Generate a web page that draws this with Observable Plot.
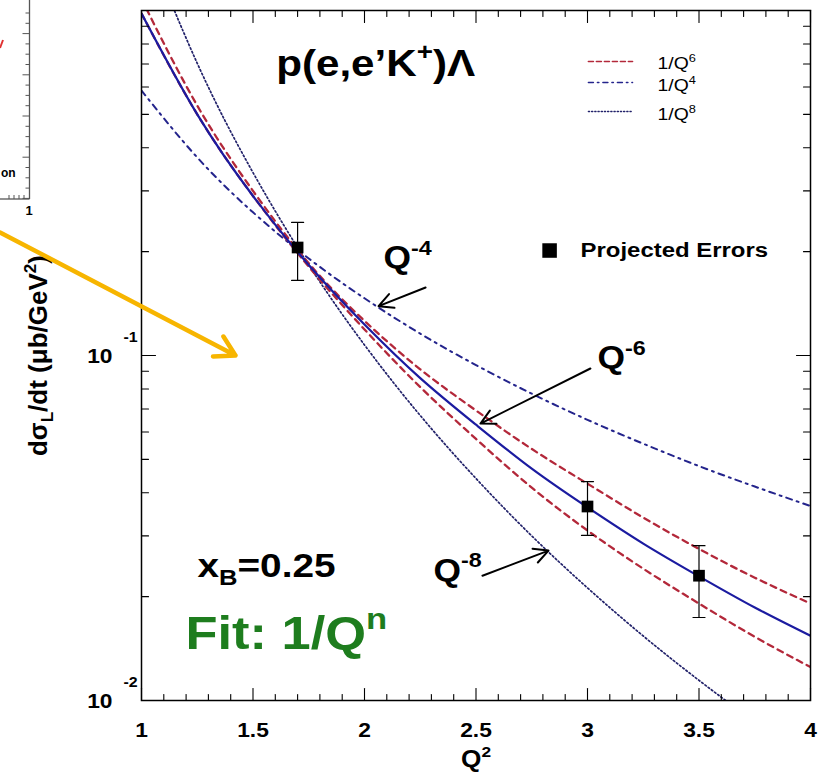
<!DOCTYPE html>
<html>
<head>
<meta charset="utf-8">
<script src="https://cdn.jsdelivr.net/npm/d3@7"></script>
<script src="https://cdn.jsdelivr.net/npm/@observablehq/plot@0.6"></script>
<style>
  body { margin: 0; background: #fff; }
  #wrap { position: relative; width: 827px; height: 774px; overflow: hidden; background: #fff; }
  #wrap > svg { position: absolute; left: 0; top: 0; }
</style>
</head>
<body>
<div id="wrap"></div>
<script>
// ---------------- data ----------------
const q2Grid   = [1, 1.25, 1.5, 1.75, 2, 2.25, 2.5, 2.75, 3, 3.25, 3.5, 3.75, 4];
const fitCurve = [0.98, 0.50, 0.29, 0.183, 0.123, 0.086, 0.063, 0.047, 0.0363, 0.0285, 0.0229, 0.0186, 0.0154];
const bandHigh = [1.08, 0.53, 0.30, 0.185, 0.126, 0.0912, 0.0693, 0.0536, 0.0425, 0.0339, 0.0275, 0.0227, 0.0191];
const bandLow  = [0.98, 0.50, 0.29, 0.181, 0.119, 0.081, 0.0573, 0.0414, 0.0311, 0.0241, 0.0191, 0.0153, 0.0125];
const curveQ4  = [0.586, 0.375, 0.260, 0.191, 0.1465, 0.1157, 0.0938, 0.0775, 0.0651, 0.0555, 0.0478, 0.0417, 0.0366];
const curveQ8  = [1.72, 0.703, 0.339, 0.183, 0.1073, 0.0670, 0.0440, 0.0300, 0.0212, 0.01538, 0.01144, 0.00868, 0.0067];

const pointQ2   = [1.7, 3.0, 3.5];
const pointVal  = [0.2056, 0.0365, 0.0230];
const pointLow  = [0.165, 0.0301, 0.0174];
const pointHigh = [0.243, 0.0431, 0.0281];

const xMajor = [1, 1.5, 2, 2.5, 3, 3.5, 4];
const xMajorLabels = ["1", "1.5", "2", "2.5", "3", "3.5", "4"];
const xMinor = [1.1, 1.2, 1.3, 1.4, 1.6, 1.7, 1.8, 1.9, 2.1, 2.2, 2.3, 2.4, 2.6, 2.7, 2.8, 2.9,
                3.1, 3.2, 3.3, 3.4, 3.6, 3.7, 3.8, 3.9];
const yMajor = [0.01, 0.1, 1];
const yMinor = [0.02, 0.03, 0.04, 0.05, 0.06, 0.07, 0.08, 0.09, 0.2, 0.3, 0.4, 0.5, 0.6, 0.7, 0.8, 0.9];
const yLabelVals = [0.01, 0.1];
const yLabelExps = ["-2", "-1"];

const legendLabels = ["1/Q^{6}", "1/Q^{4}", "1/Q^{8}"];

// ---------------- build tables ----------------
const series = (vals) => vals.map((v, i) => ({q2: q2Grid[i], v}));
const points = pointQ2.map((q, i) => ({q2: q, v: pointVal[i], lo: pointLow[i], hi: pointHigh[i]}));

const tickShape = {draw(ctx, l) { ctx.moveTo(0, 0); ctx.lineTo(0, -l); }};
const tk = {shape: tickShape, anchor: "start", stroke: "black", strokeWidth: 1.1};

const NAVY = "#1b1ba0", RED = "#b3283a", DASHDOT = "#24248c", DOTTED = "#22226a";
const BOLD = {fontWeight: "bold", fill: "black"};

const plot = Plot.plot({
  width: 827, height: 774,
  marginTop: 10, marginBottom: 74, marginLeft: 141, marginRight: 17,
  x: {domain: [1, 4], axis: null},
  y: {type: "log", domain: [0.01, 1], axis: null},
  style: {fontFamily: "'Liberation Sans', Arial, Helvetica, sans-serif", background: "transparent", overflow: "visible"},
  marks: [
    // curves
    Plot.line(series(curveQ4), {x: "q2", y: "v", curve: "natural", clip: true, stroke: DASHDOT, strokeWidth: 2, strokeDasharray: "6,5,2,5"}),
    Plot.line(series(curveQ8), {x: "q2", y: "v", curve: "natural", clip: true, stroke: DOTTED, strokeWidth: 1.7, strokeDasharray: "1.6,2.4"}),
    Plot.line(series(bandHigh), {x: "q2", y: "v", curve: "natural", clip: true, stroke: RED, strokeWidth: 2.3, strokeDasharray: "6,5"}),
    Plot.line(series(bandLow), {x: "q2", y: "v", curve: "natural", clip: true, stroke: RED, strokeWidth: 2.3, strokeDasharray: "6,5"}),
    Plot.line(series(fitCurve), {x: "q2", y: "v", curve: "natural", clip: true, stroke: NAVY, strokeWidth: 2.2}),
    // projected points with errors
    Plot.ruleX(points, {x: "q2", y1: "lo", y2: "hi", stroke: "black", strokeWidth: 1.2}),
    Plot.vector(points, {x: "q2", y: "hi", length: 12, rotate: 90, anchor: "middle", shape: tickShape, stroke: "black", strokeWidth: 1.2}),
    Plot.vector(points, {x: "q2", y: "lo", length: 12, rotate: 90, anchor: "middle", shape: tickShape, stroke: "black", strokeWidth: 1.2}),
    Plot.dot(points, {x: "q2", y: "v", symbol: "square", r: 6.6, fill: "black", stroke: "none"}),
    // frame and inward ticks
    Plot.frame({stroke: "black", strokeWidth: 1.5}),
    Plot.vector(xMajor, {x: d => d, frameAnchor: "bottom", length: 12, rotate: 0, ...tk}),
    Plot.vector(xMinor, {x: d => d, frameAnchor: "bottom", length: 6, rotate: 0, ...tk}),
    Plot.vector(xMajor, {x: d => d, frameAnchor: "top", length: 12, rotate: 180, ...tk}),
    Plot.vector(xMinor, {x: d => d, frameAnchor: "top", length: 6, rotate: 180, ...tk}),
    Plot.vector(yMajor, {y: d => d, frameAnchor: "left", length: 14, rotate: 90, ...tk}),
    Plot.vector(yMinor, {y: d => d, frameAnchor: "left", length: 7, rotate: 90, ...tk}),
    Plot.vector(yMajor, {y: d => d, frameAnchor: "right", length: 14, rotate: -90, ...tk}),
    Plot.vector(yMinor, {y: d => d, frameAnchor: "right", length: 7, rotate: -90, ...tk}),
    // tick labels
    Plot.text(xMajor, {x: d => d, frameAnchor: "bottom", lineAnchor: "middle", dy: 30, text: (d, i) => xMajorLabels[i], fontSize: 20, ...BOLD}),
    Plot.text(yLabelVals, {y: d => d, frameAnchor: "left", lineAnchor: "middle", dx: -29, dy: 1, text: () => "10", textAnchor: "end", fontSize: 20, ...BOLD}),
    Plot.text(yLabelVals, {y: d => d, frameAnchor: "left", lineAnchor: "middle", dx: -18, dy: -18, text: (d, i) => yLabelExps[i], textAnchor: "start", fontSize: 14, ...BOLD}),
    // axis titles
    Plot.text(["Q^{2}"], {frameAnchor: "bottom", lineAnchor: "middle", dy: 59, text: d => d, fontSize: 23, ...BOLD}),
    Plot.text(["dσ_{L}/dt (μb/GeV^{2})"], {frameAnchor: "left", textAnchor: "middle", lineAnchor: "middle", dx: -103, rotate: -90, text: d => d, fontSize: 26, ...BOLD}),
    // title and annotations
    Plot.text(["p(e,e’K^{+})Λ"], {x: 2.05, y: 0.70, text: d => d, fontSize: 37, ...BOLD}),
    Plot.text(["Q^{-4}"], {x: 2.085, y: 0.192, text: d => d, textAnchor: "start", fontSize: 31, ...BOLD}),
    Plot.text(["Q^{-6}"], {x: 3.045, y: 0.098, text: d => d, textAnchor: "start", fontSize: 31, ...BOLD}),
    Plot.text(["Q^{-8}"], {x: 2.309, y: 0.0238, text: d => d, textAnchor: "start", fontSize: 31, ...BOLD}),
    Plot.text(["x_{B}=0.25"], {x: 1.251, y: 0.0245, text: d => d, textAnchor: "start", fontSize: 34, ...BOLD}),
    Plot.text(["Fit: 1/Q^{n}"], {x: 1.197, y: 0.0156, text: d => d, textAnchor: "start", fontSize: 46, fontWeight: "bold", fill: "#1e7d1e"}),
    Plot.arrow([0], {x1: 2.274, y1: 0.1574, x2: 2.063, y2: 0.139, stroke: "black", strokeWidth: 2, headLength: 12, headAngle: 55}),
    Plot.arrow([0], {x1: 3.013, y1: 0.0917, x2: 2.52, y2: 0.0635, stroke: "black", strokeWidth: 2, headLength: 12, headAngle: 55}),
    Plot.arrow([0], {x1: 2.529, y1: 0.0230, x2: 2.825, y2: 0.0272, stroke: "black", strokeWidth: 2, headLength: 12, headAngle: 55}),
    // orange pointer coming from the left
    Plot.arrow([0], {x1: 0.368, y1: 0.227, x2: 1.4215, y2: 0.1, stroke: "#f7b500", strokeWidth: 4.5, headLength: 7.5, headAngle: 60}),
    // legend: projected errors
    Plot.dot([0], {x: 2.83, y: 0.2015, symbol: "square", r: 8.2, fill: "black"}),
    Plot.text(["Projected Errors"], {x: 2.969, y: 0.2015, text: d => d, textAnchor: "start", fontSize: 21, ...BOLD}),
    // legend: curves
    Plot.line([3.004, 3.202], {x: d => d, y: 0.7115, stroke: RED, strokeWidth: 1.6, strokeDasharray: "5,3"}),
    Plot.line([3.004, 3.202], {x: d => d, y: 0.6184, stroke: DASHDOT, strokeWidth: 1.5, strokeDasharray: "5,4,1.5,4"}),
    Plot.line([3.004, 3.202], {x: d => d, y: 0.5095, stroke: DOTTED, strokeWidth: 1.4, strokeDasharray: "1.2,2"}),
    Plot.text(legendLabels, {x: 3.314, y: (d, i) => [0.7023, 0.6064, 0.4994][i], text: d => d, textAnchor: "start", fontSize: 17, fill: "black"})
  ]
});

const wrap = document.getElementById("wrap");
wrap.appendChild(plot);

// ---- rich text: ^{..} superscript, _{..} subscript; horizontal stretch like the picture ----
const SVGNS = "http://www.w3.org/2000/svg";
const STRETCH = 1.14;
plot.querySelectorAll("text").forEach(t => {
  const s = t.textContent;
  if (/[\^_]\{/.test(s)) {
    const fs = parseFloat(getComputedStyle(t).fontSize);
    while (t.firstChild) t.removeChild(t.firstChild);
    const re = /([\^_])\{([^}]*)\}/g;
    let last = 0, m, shift = 0;
    const add = (str, kind) => {
      const ts = document.createElementNS(SVGNS, "tspan");
      let target = 0;
      if (kind === "^") { target = -0.42 * fs; ts.setAttribute("font-size", (0.66 * fs) + "px"); }
      if (kind === "_") { target = 0.22 * fs; ts.setAttribute("font-size", (0.66 * fs) + "px"); }
      const dy = target - shift; shift = target;
      if (dy) ts.setAttribute("dy", dy);
      ts.textContent = str;
      t.appendChild(ts);
    };
    while ((m = re.exec(s))) {
      if (m.index > last) add(s.slice(last, m.index), "");
      add(m[2], m[1]);
      last = re.lastIndex;
    }
    if (last < s.length) add(s.slice(last), "");
  }
  const tr = t.getAttribute("transform") || "";
  if (!/rotate/.test(tr)) t.setAttribute("transform", tr + ` scale(${STRETCH},1)`);
});

// ---- residue of the neighbouring figure at the left edge ----
const res = d3.create("svg").attr("width", 45).attr("height", 225).style("pointer-events", "none");
res.append("line").attr("x1", 29.5).attr("x2", 29.5).attr("y1", 0).attr("y2", 199).attr("stroke", "#555").attr("stroke-width", 1.3);
res.append("line").attr("x1", 0).attr("x2", 29.5).attr("y1", 199).attr("y2", 199).attr("stroke", "#555").attr("stroke-width", 1.3);
for (let i = 0; i < 19; i++) {
  const yy = 13 + i * 10.3, major = (i % 4) === 2;
  res.append("line").attr("x1", 29.5).attr("x2", 29.5 - (major ? 7 : 4)).attr("y1", yy).attr("y2", yy).attr("stroke", "#555");
}
[9, 14, 19, 24].forEach(xx => res.append("line").attr("x1", xx).attr("x2", xx).attr("y1", 199).attr("y2", 195).attr("stroke", "#555"));
res.append("text").attr("x", 29).attr("y", 215).attr("text-anchor", "middle").attr("font-family", "Liberation Sans, Arial").attr("font-weight", "bold").attr("font-size", 13).text("1");
res.append("text").attr("x", 1).attr("y", 177).attr("font-family", "Liberation Sans, Arial").attr("font-weight", "bold").attr("font-size", 12).text("on");
res.append("line").attr("x1", 0).attr("x2", 3).attr("y1", 48).attr("y2", 40).attr("stroke", "#e03030").attr("stroke-width", 2);
wrap.appendChild(res.node());
</script>
</body>
</html>
